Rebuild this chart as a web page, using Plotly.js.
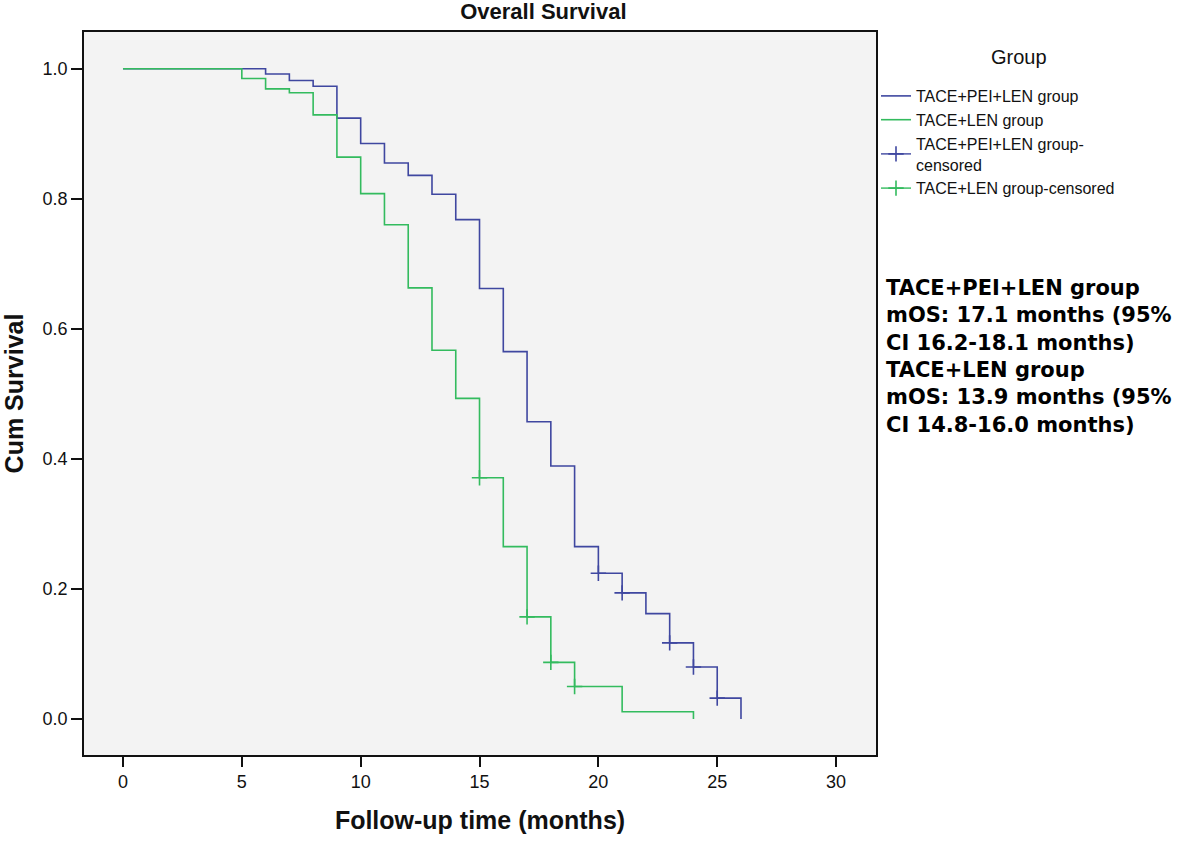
<!DOCTYPE html>
<html>
<head>
<meta charset="utf-8">
<script src="https://cdn.plot.ly/plotly-3.0.1.min.js"></script>
<style>
  html, body { margin: 0; padding: 0; background: #fff; }
  #chart { width: 1181px; height: 843px; }
</style>
</head>
<body>
<div id="chart"></div>
<script>
// Kaplan-Meier steps
var peiTimes = [0, 6, 7, 8, 9, 10, 11, 12, 13, 14, 15, 16, 17, 18, 19, 20, 21, 22, 23, 24, 25, 26];
var peiSurv  = [1.0, 0.992, 0.982, 0.973, 0.924, 0.885, 0.855, 0.836, 0.807, 0.768, 0.662, 0.565, 0.457, 0.389, 0.265, 0.224, 0.194, 0.162, 0.117, 0.080, 0.032, 0.0];
var lenTimes = [0, 5, 6, 7, 8, 9, 10, 11, 12, 13, 14, 15, 16, 17, 18, 19, 21, 24];
var lenSurv  = [1.0, 0.985, 0.969, 0.963, 0.929, 0.864, 0.808, 0.760, 0.663, 0.567, 0.493, 0.371, 0.265, 0.157, 0.087, 0.050, 0.011, 0.0];

// censored observations
var peiCensTimes = [20, 21, 23, 24, 25];
var peiCensSurv  = [0.224, 0.194, 0.117, 0.080, 0.032];
var lenCensTimes = [15, 17, 18, 19];
var lenCensSurv  = [0.371, 0.157, 0.087, 0.050];

var xTicks = [0, 5, 10, 15, 20, 25, 30];
var yTicks = [0.0, 0.2, 0.4, 0.6, 0.8, 1.0];

var groupNames = ['TACE+PEI+LEN group', 'TACE+LEN group',
                  'TACE+PEI+LEN group-<br>censored', 'TACE+LEN group-censored'];
var noteLines = ['TACE+PEI+LEN group', 'mOS: 17.1 months (95%', 'CI 16.2-18.1 months)',
                 'TACE+LEN group', 'mOS: 13.9 months (95%', 'CI 14.8-16.0 months)'];

var blue = '#3f47a0';
var green = '#33bb5e';

// separate the censor points with gaps so only the "+" marks get drawn
function gapped(arr){
    var out = [];
    for (var i = 0; i < arr.length; i++){
        out.push(arr[i]);
        out.push(null);
    }
    return out;
}

var trace1 = {
    type: 'scatter', mode: 'lines', name: groupNames[0],
    x: peiTimes, y: peiSurv,
    line: {color: blue, width: 1.6, shape: 'hv'}
};
var trace2 = {
    type: 'scatter', mode: 'lines', name: groupNames[1],
    x: lenTimes, y: lenSurv,
    line: {color: green, width: 1.6, shape: 'hv'}
};
var trace3 = {
    type: 'scatter', mode: 'lines+markers', name: groupNames[2],
    x: gapped(peiCensTimes), y: gapped(peiCensSurv),
    connectgaps: false,
    line: {color: blue, width: 1.4},
    marker: {symbol: 'cross-thin', size: 11, line: {color: blue, width: 1.6}}
};
var trace4 = {
    type: 'scatter', mode: 'lines+markers', name: groupNames[3],
    x: gapped(lenCensTimes), y: gapped(lenCensSurv),
    connectgaps: false,
    line: {color: green, width: 1.4},
    marker: {symbol: 'cross-thin', size: 11, line: {color: green, width: 1.6}}
};

var data = [trace1, trace2, trace3, trace4];

var tickFont = {family: 'Liberation Sans, Arial', size: 18, color: '#111'};
var titleFont = {family: 'Liberation Sans, Arial', size: 25, color: '#111', weight: 'bold'};

var layout = {
    width: 1181,
    height: 843,
    margin: {l: 84, r: 305, t: 32, b: 88},
    paper_bgcolor: '#ffffff',
    plot_bgcolor: '#f3f3f3',
    showlegend: true,
    title: {
        text: 'Overall Survival',
        font: {family: 'Liberation Sans, Arial', size: 22, color: '#111', weight: 'bold'},
        xref: 'paper', x: 0.58, xanchor: 'center',
        yref: 'container', y: 0.987, yanchor: 'middle'
    },
    xaxis: {
        range: [-1.64, 31.68],
        tickvals: xTicks,
        ticks: 'outside', ticklen: 10, tickwidth: 1.5, tickcolor: '#111',
        showline: true, mirror: true, linecolor: '#111', linewidth: 1.5,
        showgrid: false, zeroline: false,
        tickfont: tickFont,
        title: {text: 'Follow-up time (months)', font: titleFont, standoff: 20}
    },
    yaxis: {
        range: [-0.0554, 1.0565],
        tickvals: yTicks,
        tickformat: '.1f',
        ticks: 'outside', ticklen: 11, tickwidth: 1.5, tickcolor: '#111',
        showline: true, mirror: true, linecolor: '#111', linewidth: 1.5,
        showgrid: false, zeroline: false,
        tickfont: tickFont,
        title: {text: 'Cum Survival', font: titleFont, standoff: 12}
    },
    legend: {
        x: 1.0, xanchor: 'left',
        y: 0.935, yanchor: 'top',
        bgcolor: 'rgba(0,0,0,0)',
        font: {family: 'Liberation Sans, Arial', size: 16, color: '#111'},
        tracegroupgap: 0,
        itemwidth: 30
    },
    annotations: [{
        xref: 'paper', yref: 'paper',
        x: 1.1806, y: 0.9654, xanchor: 'center', yanchor: 'middle',
        showarrow: false, text: 'Group',
        font: {family: 'Liberation Sans, Arial', size: 20, color: '#111'}
    }, {
        xref: 'paper', yref: 'paper',
        x: 1.01, y: 0.665, xanchor: 'left', yanchor: 'top',
        align: 'left', showarrow: false,
        text: noteLines.join('<br>'),
        font: {family: 'DejaVu Sans', size: 21, color: '#000', weight: 'bold'}
    }]
};

Plotly.newPlot('chart', data, layout, {displayModeBar: false});
</script>
</body>
</html>
